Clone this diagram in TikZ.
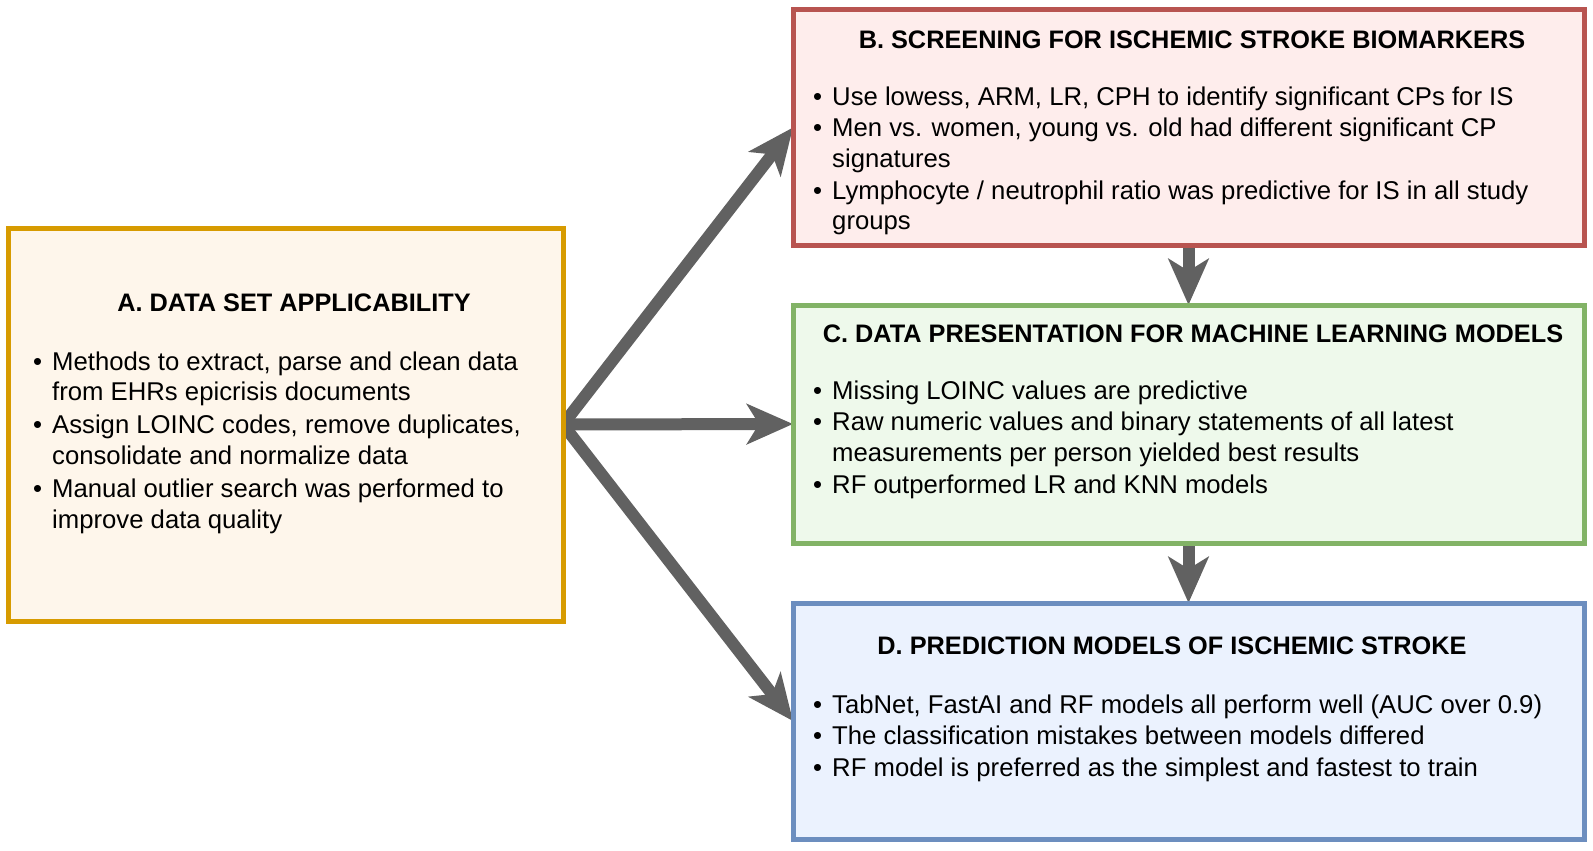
\documentclass[tikz,border=0pt]{standalone}
\usepackage{fontspec}
\setmainfont{Liberation Sans}
\usetikzlibrary{positioning}
\usetikzlibrary{arrows.meta}
\usetikzlibrary{backgrounds}

\definecolor{arrowgrey}{RGB}{97,97,97}
\definecolor{orangeline}{HTML}{D79B00}
\definecolor{orangefill}{HTML}{FEF6EB}
\definecolor{redline}{HTML}{B85450}
\definecolor{redfill}{HTML}{FEEDEC}
\definecolor{greenline}{HTML}{82B366}
\definecolor{greenfill}{HTML}{EEF9EB}
\definecolor{blueline}{HTML}{6C8EBF}
\definecolor{bluefill}{HTML}{EBF2FE}

\begin{document}
\begin{tikzpicture}[x=1bp,y=-1bp,
    >={Stealth[length=46bp,width=40bp,inset=12bp]},
    font=\fontsize{25.8}{30.8}\selectfont,
    panel/.style={draw,line width=5bp,outer sep=0pt,inner sep=0pt,minimum width=791bp},
    heading/.style={font=\fontsize{25.4}{30.8}\selectfont\bfseries,inner sep=0pt,anchor=base},
    points/.style={inner sep=0pt,anchor=base west},
    flow/.style={->,line width=12bp,draw=arrowgrey,fill=arrowgrey}]
    \useasboundingbox (0,0) rectangle (1593,850);

    % boxes
    \node (A) [panel,draw=orangeline,fill=orangefill,minimum width=554bp,minimum height=393bp] at (286,424.5) {};
    \node (B) [panel,draw=redline,fill=redfill,minimum height=235bp] at (1188.5,127.5) {};
    \node (C) [panel,draw=greenline,fill=greenfill,minimum height=238bp,below=60bp of B] {};
    \node (D) [panel,draw=blueline,fill=bluefill,minimum height=236bp,below=60bp of C] {};

    % headings and bullet lists
    \node (Ahead) [heading] at (294,311) {A. DATA SET APPLICABILITY};
    \node (Alist) [points] at (33,370) {\begin{tabular}[t]{@{}l@{\hspace{10bp}}l@{}}
        \textbullet & Methods to extract, parse and clean data\\
                    & from EHRs epicrisis documents\\[2.5bp]
        \textbullet & Assign LOINC codes, remove duplicates,\\
                    & consolidate and normalize data\\[2.5bp]
        \textbullet & Manual outlier search was performed to\\
                    & improve data quality
    \end{tabular}};

    \node (Bhead) [heading] at (1192,48) {B. SCREENING FOR ISCHEMIC STROKE BIOMARKERS};
    \node (Blist) [points] at (813,105) {\begin{tabular}[t]{@{}l@{\hspace{10bp}}l@{}}
        \textbullet & Use lowess, ARM, LR, CPH to identify significant CPs for IS\\[1bp]
        \textbullet & Men vs. women, young vs. old had different significant CP\\
                    & signatures\\[1bp]
        \textbullet & Lymphocyte / neutrophil ratio was predictive for IS in all study\\
                    & groups
    \end{tabular}};

    \node (Chead) [heading] at (1193,342) {C. DATA PRESENTATION FOR MACHINE LEARNING MODELS};
    \node (Clist) [points] at (813,399) {\begin{tabular}[t]{@{}l@{\hspace{10bp}}l@{}}
        \textbullet & Missing LOINC values are predictive\\[1bp]
        \textbullet & Raw numeric values and binary statements of all latest\\
                    & measurements per person yielded best results\\[1bp]
        \textbullet & RF outperformed LR and KNN models
    \end{tabular}};

    \node (Dhead) [heading] at (1172,654) {D. PREDICTION MODELS OF ISCHEMIC STROKE};
    \node (Dlist) [points] at (813,713) {\begin{tabular}[t]{@{}l@{\hspace{10bp}}l@{}}
        \textbullet & TabNet, FastAI and RF models all perform well (AUC over 0.9)\\[1bp]
        \textbullet & The classification mistakes between models differed\\[1bp]
        \textbullet & RF model is preferred as the simplest and fastest to train
    \end{tabular}};

    % arrows, kept under the boxes
    \begin{scope}[on background layer]
        \draw [flow] (A.east) -- (B.west);
        \draw [flow] (A.east) -- (C.west);
        \draw [flow] (A.east) -- (D.west);
        \draw [flow] (B.south) -- (C.north);
        \draw [flow] (C.south) -- (D.north);
    \end{scope}
\end{tikzpicture}
\end{document}
